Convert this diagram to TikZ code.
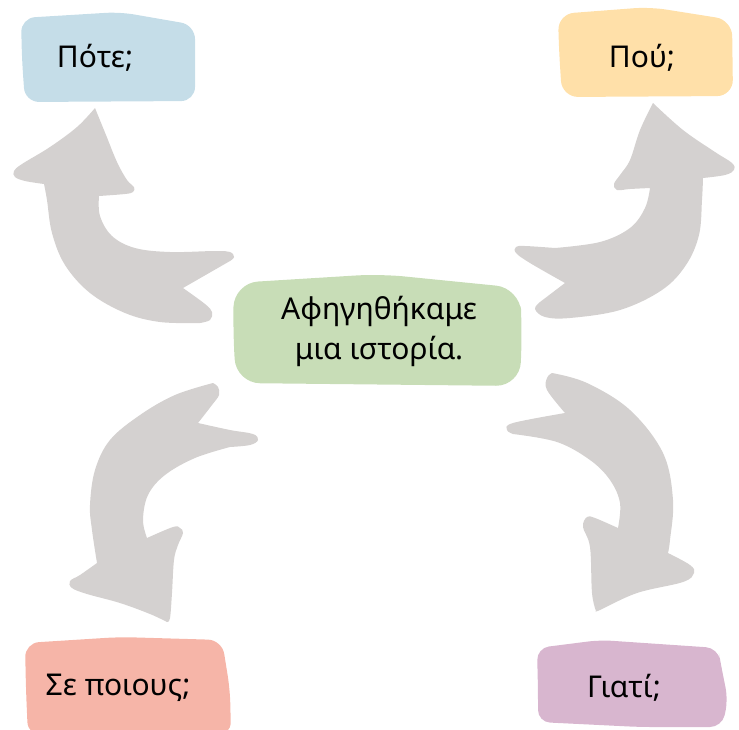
\documentclass[tikz,border=0pt]{standalone}
\usepackage{fontspec}
\setmainfont{Noto Sans}
\definecolor{cblue}{HTML}{C5DDE8}
\definecolor{cyellow}{HTML}{FFE0A9}
\definecolor{cgreen}{HTML}{C8DDB7}
\definecolor{csalmon}{HTML}{F6B5A8}
\definecolor{cpurple}{HTML}{D8B6CF}
\definecolor{carrow}{HTML}{D4D1D0}
\begin{document}
\begin{tikzpicture}[x=1pt,y=-1pt,
  arrowfill/.style={fill=carrow},
  sm/.style={smooth,tension=0.6},
  lbl/.style={font=\fontsize{30}{34}\selectfont,text=black,inner sep=0pt},
  ctr/.style={font=\fontsize{30}{40}\selectfont,text=black,align=center,inner sep=0pt}]
\useasboundingbox (0,0) rectangle (739,729);
% boxes
\fill[cblue,rounded corners=14pt] (22,60) -- (21,18) -- (120,12) -- (195,25) -- (195,101) -- (25,102) -- cycle;
\fill[cyellow,rounded corners=16pt] (559,50) -- (558,14) -- (650,7) -- (732,20) -- (733,96) -- (562,97) -- cycle;
\fill[cgreen,rounded corners=24pt] (233,330) -- (234,283) -- (380,274) -- (520,288) -- (522,330) -- (520,386) -- (236,383) -- cycle;
\fill[csalmon,rounded corners=14pt] (26,690) -- (25,643) -- (120,637) -- (222,640) -- (230,690) -- (231,736) -- (28,736) -- cycle;
\fill[cpurple,rounded corners=12pt] (538,690) -- (537,648) -- (600,640) -- (718,648) -- (721,665) -- (728,700) -- (722,727) -- (640,727) -- (538,722) -- cycle;
% arrows
\fill[arrowfill] (95,108)
  -- plot[sm] coordinates {(95,108) (106,135) (117,162) (127,180) (134,187) (133,192) (125,194) (99,196)}
  -- plot[sm] coordinates {(99,196) (100,216) (112,236) (135,248) (170,252) (215,251) (230,252) (234,257) (230,261)}
  -- (183,288)
  -- plot[sm] coordinates {(183,288) (205,304) (212,312) (210,320) (200,323)}
  -- plot[sm] coordinates {(200,323) (160,322) (125,313) (90,293) (65,265) (52,233) (47,200) (44,184)}
  -- plot[sm] coordinates {(44,184) (25,181) (15,177) (14,171) (22,164) (50,147) (77,127) (95,108)}
  -- cycle;
\fill[arrowfill] (653,103)
  -- plot[sm] coordinates {(653,103) (683,130) (715,152) (732,163) (734,170) (725,175) (703,178)}
  -- plot[sm] coordinates {(703,178) (702,200) (699,235) (686,265) (662,290) (620,310) (570,318) (545,317) (535,309) (540,302)}
  -- (565,283)
  -- plot[sm] coordinates {(565,283) (530,263) (516,253) (516,247) (525,246) (555,248)}
  -- plot[sm] coordinates {(555,248) (600,242) (630,228) (645,208) (650,188)}
  -- plot[sm] coordinates {(650,188) (630,189) (617,190) (614,184) (620,175) (630,160) (640,130) (653,103)}
  -- cycle;
\fill[arrowfill] (213,383)
  -- plot[sm] coordinates {(213,383) (218,387) (219,395) (212,405) (198,423)}
  -- plot[sm] coordinates {(198,423) (230,430) (253,434) (258,440) (250,445) (230,447)}
  -- plot[sm] coordinates {(230,447) (195,458) (165,475) (148,495) (143,520) (147,538)}
  -- plot[sm] coordinates {(147,538) (173,527) (180,528) (183,533) (178,545) (174,560) (172,593) (170,618) (167,622)}
  -- plot[sm] coordinates {(167,622) (150,614) (120,603) (87,594) (72,588) (70,581) (80,575) (97,563)}
  -- plot[sm] coordinates {(97,563) (92,530) (90,505) (95,470) (110,440) (140,415) (175,395) (213,383)}
  -- cycle;
\fill[arrowfill] (552,373)
  -- plot[sm] coordinates {(552,373) (587,383) (630,410) (663,453) (673,500) (670,540) (668,553)}
  -- plot[sm] coordinates {(668,553) (690,565) (694,573) (683,582) (637,593) (600,610) (596,611)}
  -- plot[sm] coordinates {(596,611) (592,593) (590,547) (583,527) (587,517) (595,518) (618,528)}
  -- plot[sm] coordinates {(618,528) (620,503) (610,480) (590,460) (557,442) (513,434)}
  -- plot[sm] coordinates {(513,434) (507,430) (513,423) (565,413)}
  -- plot[sm] coordinates {(565,413) (547,390) (547,378) (552,373)}
  -- cycle;
% labels
\node[lbl] (pote) at (95,58) {Πότε;};
\node[lbl] (pou) at (642,58) {Πού;};
\node[ctr] (center) at (379,331) {Αφηγηθήκαμε\\μια ιστορία.};
\node[lbl] (poious) at (118,688) {Σε ποιους;};
\node[lbl] (giati) at (624,688) {Γιατί;};
\end{tikzpicture}
\end{document}
